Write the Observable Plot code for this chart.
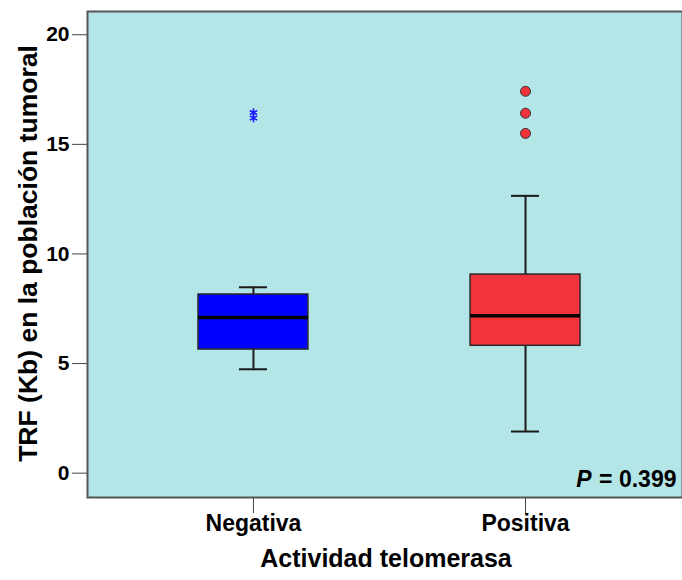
<!DOCTYPE html>
<html><head><meta charset="utf-8">
<script src="https://cdn.jsdelivr.net/npm/d3@7"></script>
<script src="https://cdn.jsdelivr.net/npm/@observablehq/plot@0.6"></script>
<style>body{margin:0;background:#fff}</style>
</head><body><div id="chart"></div>
<script>
const groups = ["Negativa", "Positiva"];
const whiskerLow = [4.74, 1.90];
const q1 = [5.64, 5.81];
const median = [7.10, 7.18];
const q3 = [8.15, 9.06];
const whiskerHigh = [8.48, 12.65];
const negativaExtremes = [16.2, 16.45];
const positivaOutliers = [15.5, 16.42, 17.42];
const yTicks = [0, 5, 10, 15, 20];
const pText = "= 0.399";
const boxColors = ["#0000ff", "#f2333b"];
const yTitle = "TRF (Kb) en la población tumoral";
const xTitle = "Actividad telomerasa";

const boxHalf = 0.202, capHalf = 0.0515;
const boxes = groups.map((g, i) => ({
  g, i, lo: whiskerLow[i], q1: q1[i], med: median[i], q3: q3[i], hi: whiskerHigh[i], color: boxColors[i]
}));
const stars = negativaExtremes.map(v => ({i: 0, v}));
const circles = positivaOutliers.map(v => ({i: 1, v}));
const font = "'Liberation Sans', Arial, sans-serif";

const chart = Plot.plot({
  width: 682,
  height: 580,
  marginLeft: 87,
  marginRight: 0,
  marginTop: 11,
  marginBottom: 83,
  style: {fontFamily: font, background: "#fff", color: "#000"},
  x: {type: "linear", domain: [-0.61, 1.577]},
  y: {domain: [-1.11, 21.06]},
  marks: [
    Plot.frame({fill: "#b4e6e8"}),
    Plot.axisY({ticks: yTicks, tickSize: 15, tickPadding: 3, fontSize: 21, fontWeight: "bold", stroke: "#444", fill: "#000", label: null}),
    Plot.axisX({ticks: [0, 1], tickFormat: d => groups[d], tickSize: 16, tickPadding: 1, fontSize: 23, fontWeight: "bold", stroke: "#444", fill: "#000", label: null}),
    Plot.ruleX(boxes, {x: "i", y1: "lo", y2: "q1", stroke: "#1a1a1a", strokeWidth: 2}),
    Plot.ruleX(boxes, {x: "i", y1: "q3", y2: "hi", stroke: "#1a1a1a", strokeWidth: 2}),
    Plot.ruleY(boxes, {y: "lo", x1: d => d.i - capHalf, x2: d => d.i + capHalf, stroke: "#1a1a1a", strokeWidth: 2}),
    Plot.ruleY(boxes, {y: "hi", x1: d => d.i - capHalf, x2: d => d.i + capHalf, stroke: "#1a1a1a", strokeWidth: 2}),
    Plot.rect(boxes, {x1: d => d.i - boxHalf, x2: d => d.i + boxHalf, y1: "q1", y2: "q3", fill: "color", stroke: "#2a2a2a", strokeWidth: 1.5}),
    Plot.ruleY(boxes, {y: "med", x1: d => d.i - boxHalf, x2: d => d.i + boxHalf, stroke: "#000", strokeWidth: 3.5}),
    Plot.dot(stars, {x: "i", y: "v", symbol: "asterisk", r: 4, stroke: "#1a1aff", strokeWidth: 1.6}),
    Plot.dot(circles, {x: "i", y: "v", r: 5, fill: "#f2333b", stroke: "#333", strokeWidth: 1}),
    Plot.frame({stroke: "#555", strokeWidth: 2}),
    Plot.text([yTitle], {text: d => d, frameAnchor: "left", rotate: -90, textAnchor: "middle", lineAnchor: "bottom", dx: -51, dy: -1, fontSize: 26.5, fontWeight: "bold", fill: "#000"}),
    Plot.text([xTitle], {text: d => d, frameAnchor: "bottom", textAnchor: "middle", lineAnchor: "bottom", dy: 69, dx: 1, fontSize: 25, fontWeight: "bold", fill: "#000"}),
    Plot.text([pText], {text: d => d, frameAnchor: "bottom-right", textAnchor: "end", lineAnchor: "bottom", dx: -6, dy: -11, fontSize: 23, fontWeight: "bold", fill: "#000"}),
    Plot.text(["P"], {text: d => d, frameAnchor: "bottom-right", textAnchor: "end", lineAnchor: "bottom", dx: -91, dy: -11, fontSize: 23, fontWeight: "bold", fontStyle: "italic", fill: "#000"})
  ]
});
document.getElementById("chart").appendChild(chart);
</script>
</body></html>
